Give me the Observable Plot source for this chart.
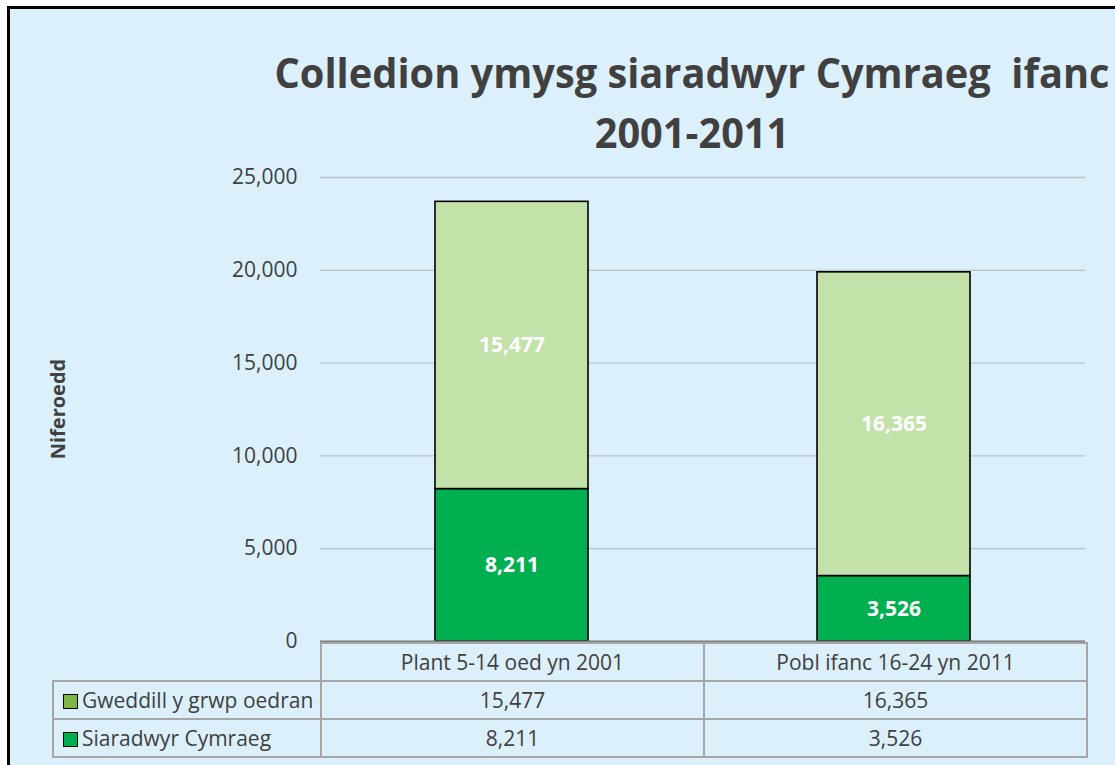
<!DOCTYPE html>
<html>
<head>
<meta charset="utf-8">
<script src="https://cdn.jsdelivr.net/npm/d3@7"></script>
<script src="https://cdn.jsdelivr.net/npm/@observablehq/plot@0.6"></script>
<style>
  html, body { margin: 0; padding: 0; background: #ffffff; }
  #chart { position: relative; width: 1115px; height: 765px; overflow: hidden; font-family: "Open Sans", sans-serif; color: #404040; }
  #frame { position: absolute; left: 7px; top: 6px; width: 1200px; height: 900px; border: 3px solid #000; background: #DBF0FB; }
  #title { position: absolute; left: 92px; top: 42px; width: 1200px; text-align: center; font-weight: bold; font-size: 41px; line-height: 60px; white-space: pre; color: #404040; transform-origin: 600px 0; }
  #title span { display: inline-block; }
  #ylab { position: absolute; left: 57px; top: 409px; transform: translate(-50%, -50%) rotate(-90deg); font-weight: bold; font-size: 20px; color: #404040; white-space: nowrap; }
  #plot { position: absolute; left: 0; top: 0; }
  #tbl { position: absolute; left: 52px; top: 642px; border-collapse: collapse; table-layout: fixed; font-size: 21px; color: #404040; }
  #tbl td { border: 2px solid #A6A6A6; height: 36px; padding: 0; text-align: center; white-space: nowrap; }
  #tbl td.blank { border-top: none; border-left: none; }
  #tbl td.lab { text-align: left; padding-left: 9px; }
  .sw { display: inline-block; width: 13px; height: 13px; border: 1px solid #000; margin-right: 4px; vertical-align: -1px; }
</style>
</head>
<body>
<div id="chart">
  <div id="frame"></div>
  <div id="title"><span id="t1">Colledion ymysg siaradwyr Cymraeg  ifanc</span><br><span id="t2">2001-2011</span></div>
  <div id="ylab">Niferoedd</div>
  <div id="plot"></div>
  <table id="tbl"></table>
</div>
<script>
const categories = ["Plant 5-14 oed yn 2001", "Pobl ifanc 16-24 yn 2011"];
const seriesNames = ["Siaradwyr Cymraeg", "Gweddill y grwp oedran"];
const siaradwyr = [8211, 3526];
const gweddill = [15477, 16365];
const yTicks = [0, 5000, 10000, 15000, 20000, 25000];
const barColors = ["#00B050", "#C2E2AA"];
const swatchColors = ["#00B050", "#7AB648"];

const fmt = d3.format(",");
const data = categories.flatMap((c, i) => [
  {cat: c, series: seriesNames[0], value: siaradwyr[i]},
  {cat: c, series: seriesNames[1], value: gweddill[i]}
]);

const chart = Plot.plot({
  width: 1115,
  height: 765,
  marginLeft: 320,
  marginRight: 30,
  marginTop: 177,
  marginBottom: 124,
  style: {background: "transparent", fontFamily: "Open Sans", color: "#404040", overflow: "visible"},
  x: {domain: categories, paddingInner: 0.6, paddingOuter: 0.3, axis: null},
  y: {domain: [0, 25000]},
  color: {domain: seriesNames, range: barColors},
  marks: [
    Plot.gridY(yTicks, {stroke: "#B8C3C9", strokeOpacity: 1, strokeWidth: 1.3}),
    Plot.axisY(yTicks, {tickSize: 0, tickPadding: 23, fontSize: 21, tickFormat: fmt, label: null, fill: "#404040"}),
    Plot.barY(data, Plot.stackY({x: "cat", y: "value", fill: "series", z: "series", order: seriesNames, stroke: "#000", strokeWidth: 1.6})),
    Plot.text(data, Plot.stackY({x: "cat", y: "value", z: "series", order: seriesNames, text: d => fmt(d.value), fill: "white", fontWeight: "bold", fontSize: 21})),
    Plot.ruleY([0], {stroke: "#7F7F7F", strokeWidth: 2.2})
  ]
});
document.getElementById("plot").appendChild(chart);

// data table
const tbl = document.getElementById("tbl");
const colgroup = document.createElement("colgroup");
[268, 383, 383].forEach(w => { const c = document.createElement("col"); c.style.width = w + "px"; colgroup.appendChild(c); });
tbl.appendChild(colgroup);
const hr = tbl.insertRow();
const b = hr.insertCell(); b.className = "blank";
categories.forEach(c => { const td = hr.insertCell(); td.textContent = c; });
const rows = [
  {name: seriesNames[1], vals: gweddill, sw: swatchColors[1]},
  {name: seriesNames[0], vals: siaradwyr, sw: swatchColors[0]}
];
rows.forEach(r => {
  const tr = tbl.insertRow();
  const l = tr.insertCell(); l.className = "lab";
  const s = document.createElement("span"); s.className = "sw"; s.style.background = r.sw;
  l.appendChild(s); l.appendChild(document.createTextNode(r.name));
  r.vals.forEach(v => { const td = tr.insertCell(); td.textContent = fmt(v); });
});

// fit title width
const t1 = document.getElementById("t1");
const w = t1.getBoundingClientRect().width;
const sc = 835 / w;
document.getElementById("title").style.transform = `scaleX(${sc})`;
</script>
</body>
</html>
